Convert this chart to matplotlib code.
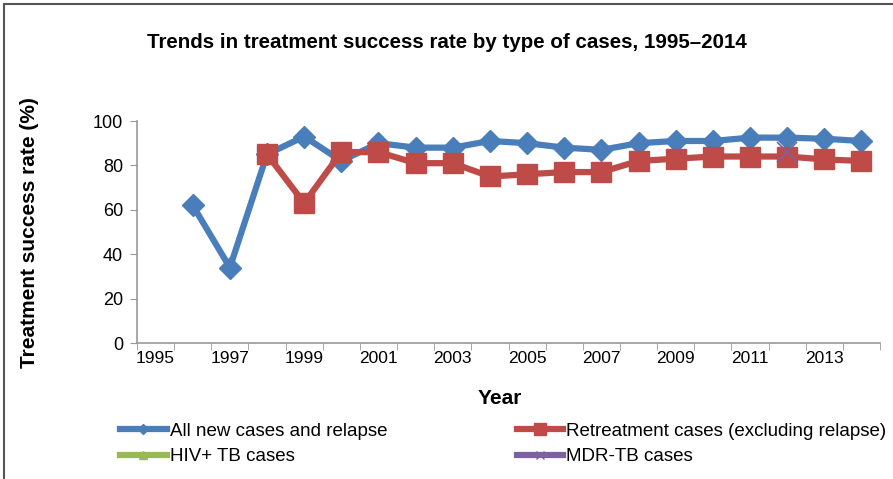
import numpy as np
import matplotlib.pyplot as plt
from matplotlib.lines import Line2D
from matplotlib.patches import Rectangle

plt.rcParams['font.family'] = ['Liberation Sans', 'DejaVu Sans']

# Data
years = list(range(1995, 2015))
new_relapse = [np.nan, 62, 34, 85, 93, 82, 90, 88, 88, 91, 90, 88, 87, 90, 91, 91, 92.5, 92.5, 92, 91]
retreatment = [np.nan, np.nan, np.nan, 85, 63, 86, 86, 81, 81, 75, 76, 77, 77, 82, 83, 84, 84, 84, 82.7, 82]
hiv_tb = [np.nan] * 20
mdr_tb = [np.nan] * 17 + [86, np.nan, np.nan]
tick_years = list(range(1995, 2014, 2))

blue = '#4A7EBB'
red = '#BE4B48'
green = '#98B954'
purple = '#7D60A0'

fig = plt.figure(figsize=(8.93, 4.79), dpi=100)
ax = fig.add_axes([137 / 893, 1 - 343 / 479, (880 - 137) / 893, (343 - 121) / 479])

x = np.arange(len(years))
ax.plot(x, new_relapse, color=blue, lw=4.5, marker='D', ms=11, label='All new cases and relapse', zorder=3)
ax.plot(x, retreatment, color=red, lw=4.5, marker='s', ms=14, label='Retreatment cases (excluding relapse)', zorder=4)
ax.plot(x, hiv_tb, color=green, lw=4.5, marker='^', ms=10, label='HIV+ TB cases', zorder=5)
ax.plot(x, mdr_tb, color=purple, lw=4.5, marker='x', ms=14, mew=1.2, label='MDR-TB cases', zorder=6)

ax.set_xlim(-0.5, len(years) - 0.5)
ax.set_ylim(0, 100)
ax.set_yticks(range(0, 101, 20))
ax.set_xticks([years.index(y) for y in tick_years])
ax.set_xticklabels([str(y) for y in tick_years])
ax.set_xticks(np.arange(-0.5, len(years)), minor=True)
ax.tick_params(axis='x', which='major', length=0, labelsize=12.5, pad=6)
ax.tick_params(axis='x', which='minor', length=5, color='#999999', direction='out')
ax.tick_params(axis='y', length=5, color='#999999', labelsize=13, pad=5)

for s in ['top', 'right']:
    ax.spines[s].set_visible(False)
for s in ['left', 'bottom']:
    ax.spines[s].set_color('#999999')
    ax.spines[s].set_linewidth(1.2)

ax.set_xlabel('Year', fontsize=15, fontweight='bold')
ax.set_ylabel('Treatment success rate (%)', fontsize=15, fontweight='bold')
ax.xaxis.set_label_coords((500 - 137) / (880 - 137), -(389 - 343) / (343 - 121))
ax.yaxis.set_label_coords(-(137 - 39) / (880 - 137), (343 - 233) / (343 - 121))

fig.text(0.5, 1 - 42 / 479, 'Trends in treatment success rate by type of cases, 1995\u20132014',
         ha='center', va='center', fontsize=14.8, fontweight='bold')

handles = [
    Line2D([], [], color=blue, lw=4.5, marker='D', ms=5),
    Line2D([], [], color=green, lw=4.5, marker='^', ms=6),
    Line2D([], [], color=red, lw=4.5, marker='s', ms=8),
    Line2D([], [], color=purple, lw=4.5, marker='x', ms=6),
]
labels = ['All new cases and relapse', 'HIV+ TB cases',
          'Retreatment cases (excluding relapse)', 'MDR-TB cases']
fig.legend(handles, labels, ncol=2, loc='center left', bbox_to_anchor=(120 / 893, 1 - 444 / 479),
           frameon=False, fontsize=13.5, handlelength=2.5, handletextpad=0.15,
           columnspacing=6.9, labelspacing=0.45, borderpad=0, borderaxespad=0)

fig.add_artist(Rectangle((4 / 893, -0.1), 1.2, 1.1 - 4 / 479, transform=fig.transFigure,
                         fill=False, edgecolor='#555555', lw=1.5))

fig.savefig('out.png', dpi=100)
